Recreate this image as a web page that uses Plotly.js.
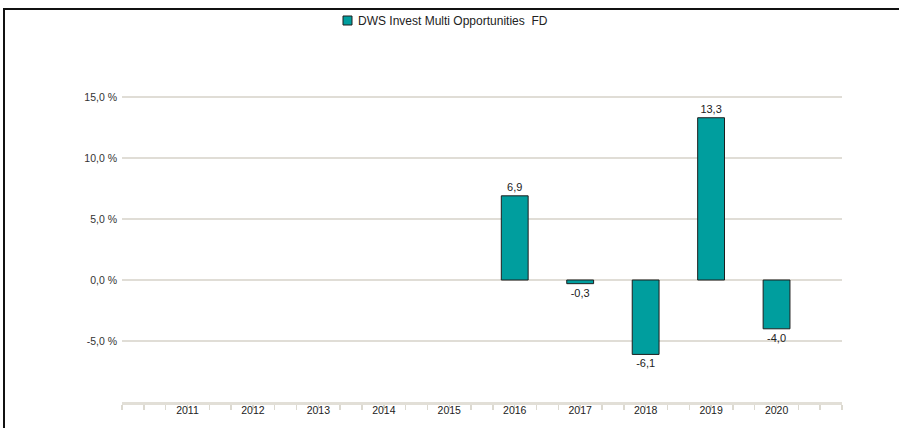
<!DOCTYPE html>
<html>
<head>
<meta charset="utf-8">
<script src="https://cdn.plot.ly/plotly-3.0.1.min.js"></script>
<style>
  html, body { margin: 0; padding: 0; background: #ffffff; }
  #wrap { position: relative; width: 899px; height: 428px; overflow: hidden; }
  #chart { position: absolute; left: 0; top: 0; width: 899px; height: 428px; }
  #frame { position: absolute; left: 3px; top: 8px; width: 910px; height: 440px;
           border-top: 2px solid #111; border-left: 2px solid #111; pointer-events: none; }
</style>
</head>
<body>
<div id="wrap">
  <div id="chart"></div>
  <div id="frame"></div>
</div>
<script>
const seriesName = "DWS Invest Multi Opportunities  FD";
const years = [2016, 2017, 2018, 2019, 2020];
const returns = [6.9, -0.3, -6.1, 13.3, -4.0];
const yearLabels = ["2011","2012","2013","2014","2015","2016","2017","2018","2019","2020"];
const yTickVals = [-5, 0, 5, 10, 15, 20];
const yTickText = ["-5,0 %", "0,0 %", "5,0 %", "10,0 %", "15,0 %", ""];

const barColor = "#009e9e";

const trace = {
  type: "bar",
  x: years,
  y: returns,
  name: seriesName,
  width: 0.41,
  marker: { color: barColor, line: { color: "#1e1e1e", width: 1 } },
  texttemplate: "%{y:.1f}",
  textposition: "outside",
  cliponaxis: false,
  textfont: { family: "Liberation Sans, Arial, sans-serif", size: 11, color: "#222222" },
  hoverinfo: "skip",
  showlegend: false
};

const layout = {
  width: 899,
  height: 428,
  margin: { l: 122, r: 57, t: 36, b: 26 },
  paper_bgcolor: "#ffffff",
  plot_bgcolor: "#ffffff",
  separators: ", ",
  showlegend: false,
  font: { family: "Liberation Sans, Arial, sans-serif", size: 11, color: "#333333" },
  xaxis: {
    type: "linear",
    range: [2010, 2021],
    tickmode: "array",
    tickvals: yearLabels.map(Number),
    ticktext: yearLabels,
    ticks: "",
    showgrid: false,
    zeroline: false,
    showline: true,
    linecolor: "#e2dfd7",
    linewidth: 3,
    ticklabelstandoff: -4,
    tickfont: { size: 10.5, color: "#222222" },
    minor: { tickmode: "linear", tick0: 2010, dtick: 1/3, ticks: "outside", ticklen: 5, tickwidth: 1.5, tickcolor: "#dcd9d0", showgrid: false },
    fixedrange: true
  },
  yaxis: {
    range: [-10, 20],
    tickmode: "array",
    tickvals: yTickVals,
    ticktext: yTickText,
    ticks: "",
    showgrid: true,
    gridcolor: "#e0ddd6",
    gridwidth: 1.5,
    zeroline: false,
    showline: false,
    ticklabelstandoff: 4,
    tickfont: { size: 10.5, color: "#333333" },
    fixedrange: true
  },
  shapes: [
    { type: "rect", xref: "paper", yref: "paper",
      x0: (343 - 122) / 720, x1: (352 - 122) / 720,
      y0: (402 - 25) / 366, y1: (402 - 16) / 366,
      fillcolor: barColor, line: { color: "#1e1e1e", width: 1 } }
  ],
  annotations: [
    { xref: "paper", yref: "paper", x: (356 - 122) / 720, y: (402 - 20.5) / 366,
      xanchor: "left", yanchor: "middle", showarrow: false,
      text: seriesName.replace(/  /g, " &nbsp;"),
      font: { family: "Liberation Sans, Arial, sans-serif", size: 12, color: "#222222" } }
  ]
};

Plotly.newPlot("chart", [trace], layout, { displayModeBar: false, staticPlot: true });
</script>
</body>
</html>
